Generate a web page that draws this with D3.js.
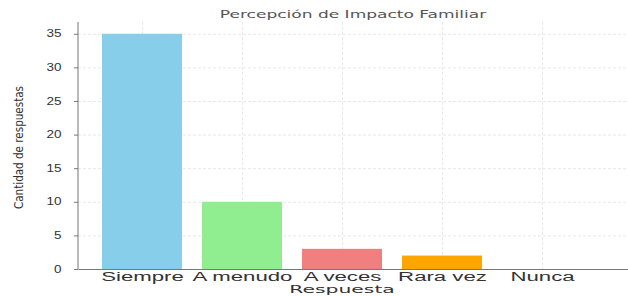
<!DOCTYPE html>
<html>
<head>
<meta charset="utf-8">
<script src="https://cdn.jsdelivr.net/npm/d3@7"></script>
<style>
  body { margin: 0; background: #fff; }
  svg { display: block; font-family: "DejaVu Sans", sans-serif; }
  .axis path, .axis line { stroke: #777; }
  .axis text { fill: #333; }
  .grid line { stroke: #e8e8e8; stroke-dasharray: 3,2; }
  .grid path { display: none; }
</style>
</head>
<body>
<div id="chart"></div>
<script>
// data
var categories = ["Siempre", "A menudo", "A veces", "Rara vez", "Nunca"];
var values = [35, 10, 3, 2, 0];
var colors = ["#87ceeb", "#90ee90", "#f08080", "#ffa500", "#ee82ee"];
var yTicks = [0, 5, 10, 15, 20, 25, 30, 35];

var width = 628;
var height = 296;
var margin = {top: 22, right: 0, bottom: 27, left: 78};

var svg = d3.select("#chart").append("svg")
  .attr("width", width)
  .attr("height", height);

var x = d3.scaleLinear()
  .domain([-0.64, 4.86])
  .range([margin.left, width - margin.right]);

var y = d3.scaleLinear()
  .domain([0, 36.75])
  .range([height - margin.bottom, margin.top]);

// grid
svg.append("g")
  .attr("class", "grid")
  .attr("transform", "translate(" + margin.left + ",0)")
  .call(d3.axisLeft(y).tickValues(yTicks)
    .tickSize(-(width - margin.left - margin.right)).tickFormat(""));

svg.append("g")
  .attr("class", "grid")
  .attr("transform", "translate(0," + margin.top + ")")
  .call(d3.axisTop(x).tickValues(d3.range(categories.length))
    .tickSize(-(height - margin.top - margin.bottom)).tickFormat(""));

// bars
svg.append("g").selectAll("rect")
  .data(values)
  .join("rect")
  .attr("x", function(d, i) { return x(i - 0.4); })
  .attr("width", x(0.4) - x(-0.4))
  .attr("y", function(d) { return y(d); })
  .attr("height", function(d) { return y(0) - y(d); })
  .attr("fill", function(d, i) { return colors[i]; });

// axes
var xAxis = svg.append("g")
  .attr("class", "axis")
  .attr("transform", "translate(0," + (height - margin.bottom) + ")")
  .call(d3.axisBottom(x).tickValues(d3.range(categories.length))
    .tickSize(0).tickPadding(3)
    .tickFormat(function(i) { return categories[i]; }));
// the reference text is drawn stretched wide
xAxis.selectAll("text")
  .attr("font-size", 12)
  .attr("transform", "scale(1.85,1)")
  .attr("fill", function(d, i) { return i === 3 ? "#556" : "#333"; });

var yAxis = svg.append("g")
  .attr("class", "axis")
  .attr("transform", "translate(" + margin.left + ",0)")
  .call(d3.axisLeft(y).tickValues(yTicks).tickSize(4).tickPadding(3));
yAxis.select(".domain").attr("d", "M0," + y(0) + "V" + margin.top);
yAxis.selectAll(".tick text")
  .attr("font-size", 10)
  .attr("transform", "translate(-7,0) scale(1.35,1)");

// labels
svg.append("text")
  .attr("transform", "translate(" + ((margin.left + width - margin.right) / 2) + ",18) scale(1.55,1)")
  .attr("text-anchor", "middle")
  .attr("font-size", 11)
  .attr("fill", "#555")
  .text("Percepción de Impacto Familiar");

svg.append("text")
  .attr("transform", "translate(342,293) scale(1.85,1)")
  .attr("text-anchor", "middle")
  .attr("font-size", 11)
  .attr("fill", "#333")
  .text("Respuesta");

svg.append("text")
  .attr("transform", "translate(23," + ((margin.top + height - margin.bottom) / 2 + 2) + ") rotate(-90) scale(0.8,1)")
  .attr("text-anchor", "middle")
  .attr("font-size", 13)
  .attr("fill", "#333")
  .text("Cantidad de respuestas");
</script>
</body>
</html>
